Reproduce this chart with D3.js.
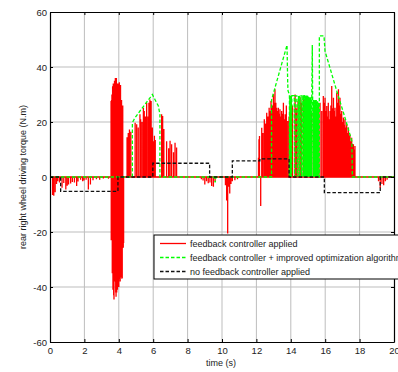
<!DOCTYPE html>
<html><head><meta charset="utf-8">
<script src="https://cdn.jsdelivr.net/npm/d3@7"></script>
<style>
html,body{margin:0;padding:0;background:#fff;}
svg{display:block;font-family:"Liberation Sans",Arial,sans-serif;}
</style></head>
<body>
<svg id="chart" width="398" height="372"></svg>
<script>
// ---- data ----
const xTicks = [0,2,4,6,8,10,12,14,16,18,20];
const yTicks = [-60,-40,-20,0,20,40,60];
const legendLabels = ["feedback controller applied","feedback controller + improved optimization algorithm","no feedback controller applied"];

// feedback controller applied (red) – sampled torque values
const redT = [0.15,0.22,0.3,0.38,0.45,0.55,0.7,0.8,0.92,1.0,1.08,1.2,1.3,1.42,1.55,1.63,1.78,1.9,1.98,2.1,2.23,2.35,2.5,2.7,2.89,3.1,3.4,
  3.55,3.56,3.58,3.6,3.62,3.64,3.66,3.68,3.7,3.72,3.75,3.78,3.8,3.82,3.84,3.86,3.88,3.9,3.92,3.95,3.97,4.0,4.03,4.06,4.08,4.1,4.13,4.16,4.18,4.2,4.23,4.26,4.28,
  4.48,4.55,4.62,4.7,4.95,5.04,5.13,5.23,5.27,5.35,5.43,5.48,5.55,5.62,5.7,5.75,5.81,5.88,5.95,6.0,6.07,6.12,6.49,6.55,6.62,6.78,6.9,6.98,7.07,7.18,7.27,7.36,
  8.8,8.9,9.0,9.1,9.2,9.3,9.4,9.5,9.6,10.2,10.27,10.33,10.38,10.45,10.52,10.6,10.75,10.9,
  12.12,12.15,12.18,12.25,12.31,12.38,12.46,12.53,12.6,12.67,12.74,12.8,12.85,12.92,12.99,13.04,13.08,13.13,13.18,13.23,13.28,13.33,13.37,13.42,13.47,13.52,13.57,13.62,13.67,13.74,13.82,
  13.9,14.02,14.1,14.25,14.33,14.42,14.54,14.62,14.73,14.83,14.93,14.99,15.12,15.2,15.31,15.4,15.51,15.58,15.7,15.8,
  15.89,15.94,15.99,16.04,16.09,16.13,16.18,16.23,16.28,16.33,16.38,16.43,16.48,16.52,16.57,16.62,16.67,16.72,16.77,16.82,16.86,16.91,16.96,17.01,17.06,17.1,17.15,17.2,17.25,17.3,17.35,17.4,17.44,17.49,17.54,17.59,17.64,17.68,17.73,
  19.1,19.2,19.3,19.4,19.5,19.6];
const redV = [-6.5,-6.8,-5.5,-2.5,-1.5,-2.0,-3.9,-2.2,-4.5,-3.2,-2.7,-2.4,-1.8,-2.0,-3.3,-1.6,-1.0,-1.5,-1.3,-1.0,-4.5,-2.7,-1.2,-0.8,-1.0,-0.5,-0.6,
  27.6,-23,28,30,-35,33,-41,34,-43,-44.5,35,-38,36,-42,-43.5,36,-42,34,-41,-40,34,-40,34.5,-37,-38,33.5,-36.5,28,-37,-36.7,26,-25.7,-24,
  14.5,16.0,17.3,16.5,19.7,19.2,18,22.8,21,20,25.2,24,22,27,22,27,28.2,27.6,18,13,15,13.5,22.8,22.2,17.5,13,10.5,13.2,11.9,9,12.5,10.7,
  -0.8,-1.3,-2.7,-1.5,-2.3,-2.0,-3.3,-3.5,-1.5,-3,-8.5,-20.5,-3.5,-6,-2.5,-1.5,-1.2,-0.8,
  7,13.7,14.9,-10.5,17.9,16,21,19.5,23.4,22,25.2,24,27.6,26,30.1,27,31.9,27,25.2,24,25.2,23,24.6,22,24,23,27,21,22.8,26,20.4,
  22,29.4,26,30,25,27.6,29,27,29.4,28,29.4,26,21.6,23,24,20,22.8,25,27,24,
  29.5,27,28.8,24,25.8,22,27,21,24,26,33.1,25,28.8,24,25.2,22,30.7,27,31.9,26,28.8,23,24,20,21.6,19,21,18,19.2,16,18,15,15.5,13,14.3,12,11.9,10,11.3,
  -1.5,-4,-2.5,-3,-1.5,-1];

// feedback controller + improved optimization algorithm (green)
const greenT = [0,4.79,4.79,4.94,5.23,5.52,5.81,5.95,6.1,6.3,6.39,6.39,9.55,9.6,9.65,12.88,12.88,13.78,13.82,13.84,13.92,13.92,
  13.94,13.96,13.98,14.0,14.02,14.04,14.06,14.2,14.22,14.25,14.35,14.37,14.45,14.48,14.5,14.53,14.6,14.63,
  14.7,14.72,14.74,14.76,14.78,14.8,14.82,14.84,14.86,14.88,14.9,14.92,14.94,14.96,14.98,15.0,15.02,15.04,15.06,15.08,15.1,15.12,15.14,15.16,15.18,15.2,15.22,15.25,15.27,
  15.3,15.32,15.34,15.36,15.38,15.4,15.42,15.44,15.46,15.48,15.5,15.52,15.54,15.56,15.58,15.6,15.63,15.66,15.66,15.93,15.99,16.67,17.15,17.55,17.58,20];
const greenV = [0,0,19.8,21.5,24,26.4,28.8,30,28.2,25.8,22.8,0,0,-2,0,0,28,48,34,31.3,30,0,
  29.5,0,29.5,0,29.5,0,29.6,29.6,0,29.5,29.5,0,29.5,0,29.5,0,29.8,0,
  29.8,0,29.8,0,29.8,0,29.6,0,29.6,0,29.6,0,29.6,0,29.6,0,29.2,0,29,0,29,0,29,0,29,0,28.5,48,28,
  0,28,0,28,0,27.5,0,28,0,28,0,27.5,0,27.5,0,27,0,0,51.3,51.3,45.8,31.3,21.6,13,0,0];

// no feedback controller applied (black)
const blackT = [0,0.62,0.62,3.95,3.95,5.98,5.98,9.28,9.28,10.6,10.6,12.2,12.2,13.9,13.9,15.95,15.95,19.2,19.2,20];
const blackV = [0,0,-5.2,-5.2,0,0,5,5,0,0,5.9,5.9,6.6,6.6,0,0,-5.7,-5.7,0,0];

// ---- drawing ----
const svg = d3.select("#chart");
const x = d3.scaleLinear().domain([0,20]).range([50,394]);
const y = d3.scaleLinear().domain([-60,60]).range([342,12]);

// grid
const g = svg.append("g");
g.selectAll(".gx").data(xTicks.slice(1,-1)).join("line")
  .attr("x1",d=>x(d)).attr("x2",d=>x(d)).attr("y1",y(60)).attr("y2",y(-60))
  .attr("stroke","#bdbdbd").attr("stroke-width",1);
g.selectAll(".gy").data(yTicks.slice(1,-1)).join("line")
  .attr("y1",d=>y(d)).attr("y2",d=>y(d)).attr("x1",x(0)).attr("x2",x(20))
  .attr("stroke","#bdbdbd").attr("stroke-width",1);

// red series: stems along a zero baseline
const redPts = redT.map((t,i)=>[t,redV[i]]).sort((a,b)=>a[0]-b[0]);
let rp = `M${x(0)},${y(0)}`;
redPts.forEach(([t,v])=>{ rp += `L${x(t)},${y(0)}L${x(t)},${y(v)}L${x(t)},${y(0)}`; });
rp += `L${x(20)},${y(0)}`;
svg.append("path").attr("d",rp).attr("fill","none").attr("stroke","#ff0000").attr("stroke-width",1.3);

const line = d3.line().x(d=>x(d[0])).y(d=>y(d[1]));
svg.append("path").datum(greenT.map((t,i)=>[t,greenV[i]])).attr("d",line)
  .attr("fill","none").attr("stroke","#00ff00").attr("stroke-width",1.3).attr("stroke-dasharray","3.5,2");
svg.append("path").datum(blackT.map((t,i)=>[t,blackV[i]])).attr("d",line)
  .attr("fill","none").attr("stroke","#111").attr("stroke-width",1.3).attr("stroke-dasharray","3.5,2");

// axes
const fs = "9.5px";
const ax = svg.append("g").attr("transform",`translate(0,${y(-60)})`)
  .call(d3.axisBottom(x).tickValues(xTicks).tickSizeInner(-3).tickSizeOuter(0).tickPadding(5).tickFormat(d3.format("d")));
const axT = svg.append("g").attr("transform",`translate(0,${y(60)})`)
  .call(d3.axisTop(x).tickValues(xTicks).tickSizeInner(-3).tickSizeOuter(0).tickFormat(""));
const ay = svg.append("g").attr("transform",`translate(${x(0)},0)`)
  .call(d3.axisLeft(y).tickValues(yTicks).tickSizeInner(-3).tickSizeOuter(0).tickPadding(3).tickFormat(d3.format("d")));
const ayR = svg.append("g").attr("transform",`translate(${x(20)},0)`)
  .call(d3.axisRight(y).tickValues(yTicks).tickSizeInner(-3).tickSizeOuter(0).tickFormat(""));
[ax,axT,ay,ayR].forEach(a=>{
  a.select(".domain").attr("stroke","#000").attr("stroke-width",1.2);
  a.selectAll(".tick line").attr("stroke","#000");
  a.selectAll("text").attr("font-size",fs).attr("fill","#222").attr("font-family","Liberation Sans, Arial, sans-serif");
});
ay.selectAll("text").text(d=>d<0?"-"+Math.abs(d):d);

// axis labels
svg.append("text").attr("x",221).attr("y",366).attr("text-anchor","middle")
  .attr("font-size","9px").attr("fill","#222").text("time (s)");
svg.append("text").attr("transform","translate(26,177) rotate(-90)").attr("text-anchor","middle")
  .attr("font-size","9px").attr("fill","#222").text("rear right wheel driving torque (N.m)");

// legend
const lg = svg.append("g");
lg.append("rect").attr("x",154).attr("y",235).attr("width",270).attr("height",44)
  .attr("fill","#fff").attr("stroke","#000").attr("stroke-width",1);
const lColors = ["#ff0000","#00ff00","#111"];
const lDash = [null,"3.5,2","3.5,2"];
legendLabels.forEach((lab,i)=>{
  const yy = 243.5 + i*14;
  lg.append("line").attr("x1",160).attr("x2",186).attr("y1",yy).attr("y2",yy)
    .attr("stroke",lColors[i]).attr("stroke-width",1.3).attr("stroke-dasharray",lDash[i]);
  lg.append("text").attr("x",190).attr("y",yy+3).attr("font-size","9px").attr("fill","#222").text(lab);
});
</script>
</body></html>
